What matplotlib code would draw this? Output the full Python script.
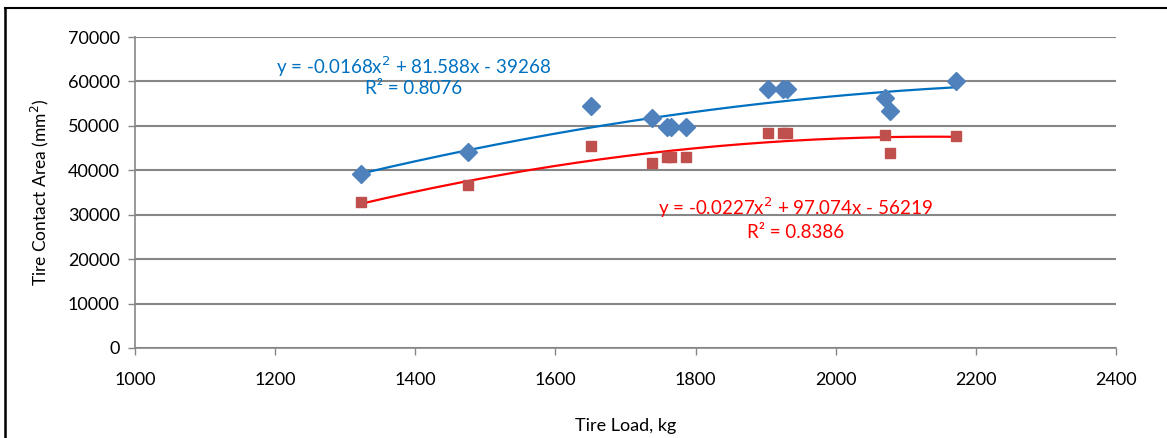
import numpy as np
import matplotlib
matplotlib.use("Agg")
import matplotlib.pyplot as plt
from matplotlib.lines import Line2D

plt.rcParams["font.family"] = ["Lato", "DejaVu Sans"]

# tire load (kg) and measured contact area (mm^2)
load = [1323, 1475, 1651, 1738, 1759, 1765, 1786, 1903, 1925, 1930, 2070, 2078, 2172]
area_blue = [39200, 44100, 54500, 51800, 49800, 49800, 49800, 58300, 58300, 58300, 56300, 53300, 60100]
area_red = [32800, 36700, 45400, 41700, 43000, 43000, 43000, 48400, 48400, 48400, 48000, 43900, 47700]

# trendline coefficients as printed on the chart (order 2 polynomial)
blue_coef = [-0.0168, 81.588, -39268]
red_coef = [-0.0227, 97.074, -56219]
blue_eq = "y = -0.0168x$^2$ + 81.588x - 39268"
blue_r2 = "R² = 0.8076"
red_eq = "y = -0.0227x$^2$ + 97.074x - 56219"
red_r2 = "R² = 0.8386"

x_ticks = [1000, 1200, 1400, 1600, 1800, 2000, 2200, 2400]
y_ticks = [0, 10000, 20000, 30000, 40000, 50000, 60000, 70000]

GRID = "#868686"
BLUE_MK = "#4F81BD"
RED_MK = "#C0504D"
BLUE_LN = "#0070C0"
RED_LN = "#FF0000"

fig = plt.figure(figsize=(11.67, 4.38), dpi=100)
ax = fig.add_axes([135 / 1167, 1 - 348 / 438, (1116 - 135) / 1167, (348 - 37) / 438])

xs = np.linspace(min(load), max(load), 200)
ax.plot(xs, np.polyval(blue_coef, xs), color=BLUE_LN, lw=1.6, zorder=3)
ax.plot(xs, np.polyval(red_coef, xs), color=RED_LN, lw=1.6, zorder=3)
ax.plot(load, area_blue, "D", color=BLUE_MK, ms=9.5, mec=BLUE_MK, zorder=4)
ax.plot(load, area_red, "s", color=RED_MK, ms=7, mec=RED_MK, zorder=4)

ax.text(1397, 63400, blue_eq, color=BLUE_LN, fontsize=13.5, ha="center", va="center")
ax.text(1397, 58300, blue_r2, color=BLUE_LN, fontsize=13.5, ha="center", va="center")
ax.text(1942, 31500, red_eq, color=RED_LN, fontsize=13.5, ha="center", va="center")
ax.text(1942, 26100, red_r2, color=RED_LN, fontsize=13.5, ha="center", va="center")

ax.set_xlim(1000, 2400)
ax.set_ylim(0, 70000)
ax.set_xticks(x_ticks)
ax.set_yticks(y_ticks)
ax.grid(True, axis="y", color=GRID, lw=1.5, zorder=0)
ax.set_axisbelow(True)
for side in ("top", "right"):
    ax.spines[side].set_visible(False)
for side in ("left", "bottom"):
    ax.spines[side].set_color(GRID)
    ax.spines[side].set_linewidth(1.2)
ax.tick_params(direction="out", color=GRID, length=5, width=1, labelsize=13, pad=6)
ax.tick_params(axis="x", pad=12)

ax.set_xlabel("Tire Load, kg", fontsize=13, labelpad=22)
ax.set_ylabel("Tire Contact Area (mm$^2$)", fontsize=12.5, labelpad=12)

# chart border (only top and left edges visible in the crop)
fig.add_artist(Line2D([4.5 / 1167, 4.5 / 1167], [0, 1 - 8 / 438], color="black", lw=1.8,
                      transform=fig.transFigure))
fig.add_artist(Line2D([4.5 / 1167, 1], [1 - 8 / 438, 1 - 8 / 438], color="black", lw=1.5,
                      transform=fig.transFigure))

fig.savefig("out.png", dpi=100, facecolor="white")
